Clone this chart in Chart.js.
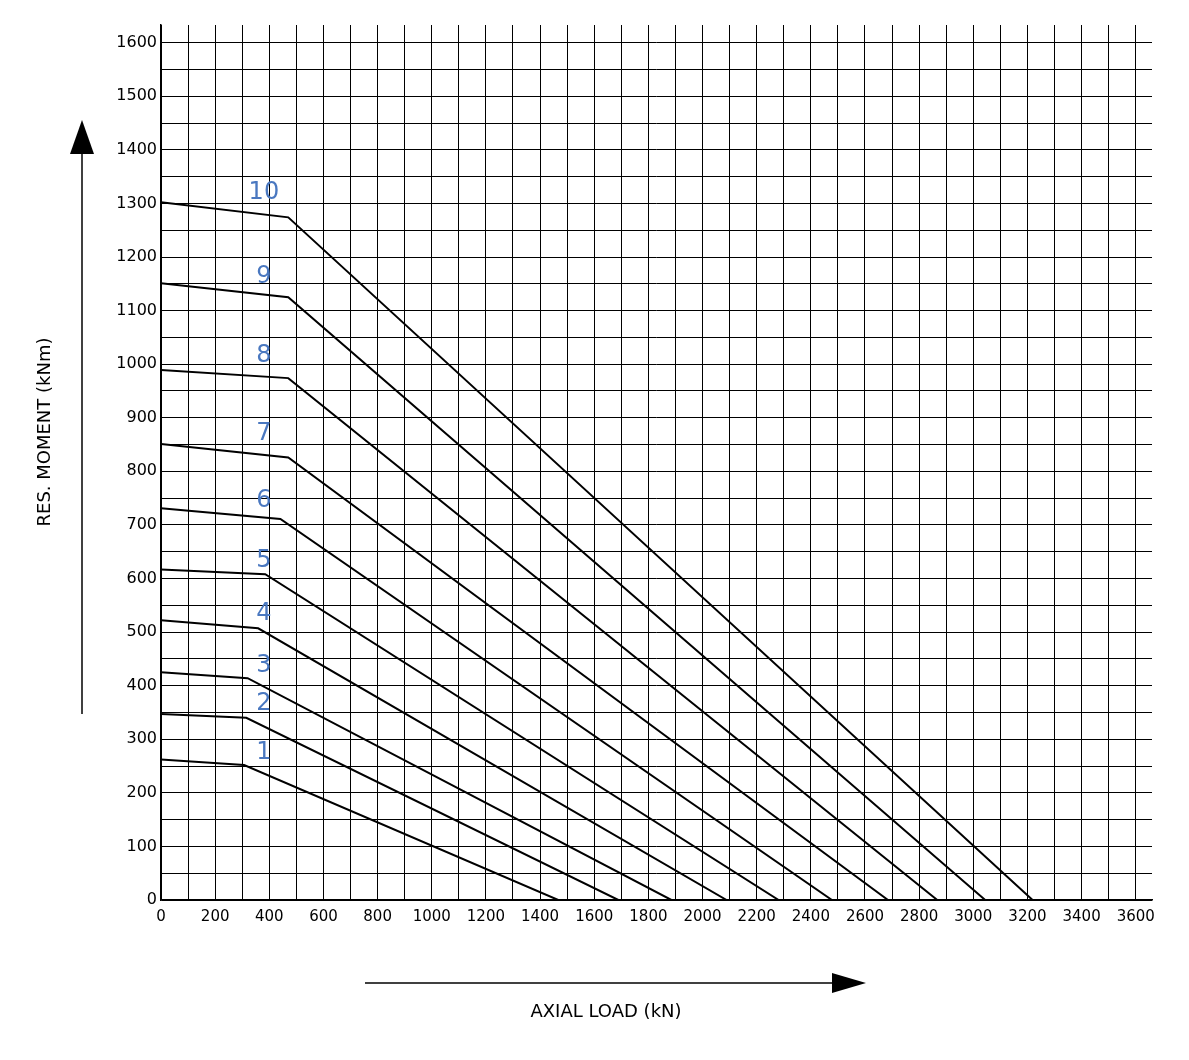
<!DOCTYPE html>
<html>
<head>
<meta charset="utf-8">
<script src="https://cdn.jsdelivr.net/npm/chart.js@4"></script>
<style>
  body { margin: 0; background: #fff; }
  #wrap { width: 1189px; height: 1060px; }
</style>
</head>
<body>
<div id="wrap"><canvas id="chart"></canvas></div>
<script>
// curve data: [axial load kN, moment kNm]
const curveNames = ['1', '2', '3', '4', '5', '6', '7', '8', '9', '10'];
const startMoment = [262, 347, 425, 522, 617, 731, 851, 989, 1151, 1302];
const kneeLoad = [307, 315, 320, 359, 385, 441, 470, 470, 470, 470];
const kneeMoment = [252, 340, 414, 507, 608, 711, 826, 974, 1125, 1274];
const endLoad = [1467, 1689, 1885, 2089, 2281, 2478, 2685, 2867, 3044, 3219];
const labelMoment = [274, 367, 437, 535, 634, 746, 871, 1015, 1164, 1319];

// grid lines every 100 kN / 50 kNm, labels every 200 / 100
const xTicks = [];
for (let v = 0; v <= 3600; v += 100) xTicks.push(v);
const yTicks = [];
for (let v = 0; v <= 1600; v += 50) yTicks.push(v);

const datasets = curveNames.map(function(n, i){
  return {
    label: n,
    data: [{x: 0, y: startMoment[i]}, {x: kneeLoad[i], y: kneeMoment[i]}, {x: endLoad[i], y: 0}],
    borderColor: '#000',
    borderWidth: 2,
    pointRadius: 0,
    fill: false
  };
});

// Start Decorations
const decor = {
  id: 'decor',
  afterDraw(chart){
    const c = chart.ctx, xs = chart.scales.x, ys = chart.scales.y;
    c.save();
    // curve numbers
    c.fillStyle = '#4a78c0';
    c.font = '24px "DejaVu Sans"';
    c.textAlign = 'center';
    c.textBaseline = 'middle';
    curveNames.forEach(function(n, i){
      c.fillText(n, xs.getPixelForValue(380), ys.getPixelForValue(labelMoment[i]));
    });
    // arrows
    c.strokeStyle = '#000'; c.fillStyle = '#000'; c.lineWidth = 1.5;
    c.beginPath(); c.moveTo(82, 714); c.lineTo(82, 150); c.stroke();
    c.beginPath(); c.moveTo(70, 154); c.lineTo(94, 154); c.lineTo(82, 120); c.closePath(); c.fill();
    c.beginPath(); c.moveTo(365, 983); c.lineTo(835, 983); c.stroke();
    c.beginPath(); c.moveTo(832, 973); c.lineTo(832, 993); c.lineTo(866, 983); c.closePath(); c.fill();
    // titles
    c.fillStyle = '#000';
    c.font = '18px "DejaVu Sans"';
    c.fillText('AXIAL LOAD (kN)', 606, 1012);
    c.translate(45, 432); c.rotate(-Math.PI / 2);
    c.fillText('RES. MOMENT (kNm)', 0, 0);
    c.restore();
  }
};
// End Decorations

new Chart(document.getElementById('chart'), {
  type: 'line',
  data: { datasets: datasets },
  plugins: [decor],
  options: {
    responsive: true,
    maintainAspectRatio: false,
    animation: false,
    layout: { padding: { top: 25, right: 37, left: 0, bottom: 0 } },
    plugins: { legend: { display: false }, tooltip: { enabled: false } },
    scales: {
      x: {
        type: 'linear', min: 0, max: 3660,
        afterFit: function(s){ s.height = 160; },
        afterBuildTicks: function(s){ s.ticks = xTicks.map(function(v){ return {value: v}; }); },
        grid: { color: '#000', lineWidth: 1, drawTicks: false },
        border: { color: '#000', width: 1.5 },
        ticks: {
          autoSkip: false, maxRotation: 0, color: '#000', padding: 8,
          font: { family: 'DejaVu Sans', size: 15 },
          callback: function(v){ return v % 200 === 0 ? v : ''; }
        }
      },
      y: {
        type: 'linear', min: 0, max: 1633,
        afterFit: function(s){ s.width = 161; },
        afterBuildTicks: function(s){ s.ticks = yTicks.map(function(v){ return {value: v}; }); },
        grid: { color: '#000', lineWidth: 1, drawTicks: false },
        border: { color: '#000', width: 1.5 },
        ticks: {
          autoSkip: false, color: '#000', padding: 4,
          font: { family: 'DejaVu Sans', size: 16 },
          callback: function(v){ return v % 100 === 0 ? v : ''; }
        }
      }
    }
  }
});
</script>
</body>
</html>
